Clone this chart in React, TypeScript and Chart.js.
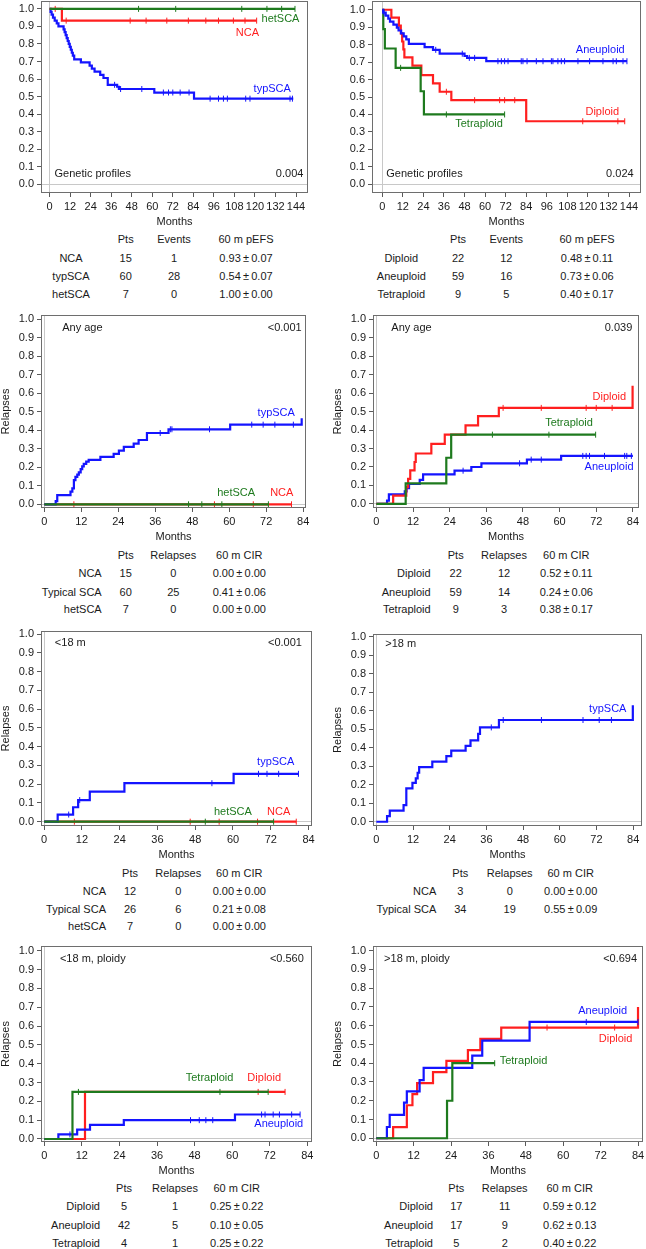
import { useEffect, useRef } from "react";
import { Chart, registerables } from "chart.js";

Chart.register(...registerables);

const FONT = "'Liberation Sans', Arial, Helvetica, sans-serif";
const TEXT = "#1a1a1a";
const AXIS = "#5a5a5a";
const FRAME = "#6e6e6e";
const REF = "#c8c8c8";
const BLUE = "#1414ff";
const RED = "#ff1f1f";
const GREEN = "#1e7a1e";

// ---------- tick labels ----------
const yTicks = [0, 0.1, 0.2, 0.3, 0.4, 0.5, 0.6, 0.7, 0.8, 0.9, 1.0];
const xTicksEFS = [0, 12, 24, 36, 48, 60, 72, 84, 96, 108, 120, 132, 144];
const xTicksCIR = [0, 12, 24, 36, 48, 60, 72, 84];

// ---------- Panel A: EFS by genetic profile ----------
const aNcaT = [0, 7.2, 121];
const aNcaS = [1, 0.933, 0.933];
const aNcaC = [3.3, 9.7, 47.1, 56.4, 68.5, 81.1, 91.3, 98.7, 107.4, 114.2, 121];
const aTypT = [0, 0.6, 1.2, 2.0, 3.0, 4.2, 5.2, 8.2, 8.8, 9.4, 10.0, 10.6, 11.2, 11.8, 12.4, 13.0, 13.6, 14.4, 18.3, 23.4, 24.7, 26.3, 29.6, 31.5, 34.0, 39.5, 40.5, 61.2, 84.4, 142.4];
const aTypS = [1, 0.983, 0.967, 0.95, 0.933, 0.917, 0.9, 0.883, 0.867, 0.85, 0.833, 0.817, 0.8, 0.783, 0.767, 0.75, 0.733, 0.712, 0.695, 0.676, 0.659, 0.642, 0.624, 0.606, 0.567, 0.556, 0.543, 0.523, 0.488, 0.488];
const aTypC = [38.0, 41.5, 53.9, 66.5, 69.5, 72.0, 76.3, 81.5, 93.8, 98.7, 101.6, 103.9, 114.6, 117.1, 140.5, 141.9];
const aHetT = [0, 143.4];
const aHetS = [1, 1];
const aHetC = [52, 73.7, 112.3, 127, 135.6, 143.4];

// ---------- Panel B: EFS by ploidy ----------
const bDipT = [0, 5.3, 9.7, 10.8, 11.6, 12.3, 12.9, 17.6, 22.8, 29.6, 33.5, 40.3, 84.0, 141.5];
const bDipS = [1, 0.955, 0.909, 0.864, 0.818, 0.773, 0.727, 0.68, 0.625, 0.578, 0.53, 0.482, 0.361, 0.361];
const bDipC = [37.4, 53.9, 68.5, 71.4, 77.3, 117, 137.5, 141.5];
const bAneT = [0, 0.5, 2.0, 3.5, 4.5, 6.5, 8.5, 9.5, 11.0, 12.5, 14.0, 15.5, 24.7, 29.6, 33.5, 48.0, 49.5, 60.7, 142.8];
const bAneS = [1, 0.983, 0.966, 0.949, 0.932, 0.915, 0.898, 0.881, 0.864, 0.847, 0.83, 0.804, 0.786, 0.77, 0.748, 0.735, 0.724, 0.705, 0.705];
const bAneC = [1.0, 31.2, 46.7, 50.8, 53.9, 67.5, 69.5, 71.4, 73.4, 81.1, 82.1, 84.5, 89.9, 93.8, 98.7, 99.6, 102.5, 104.5, 106.4, 114.2, 121, 128.8, 134.7, 136.6, 140.5, 142.8];
const bTetT = [0, 0.6, 1.5, 7.8, 22.4, 24.3, 71.4];
const bTetS = [1, 0.889, 0.778, 0.667, 0.533, 0.4, 0.4];
const bTetC = [10.7, 37.4, 71.4];

// ---------- Panel C: CIR any age, genetic ----------
const cTypT = [0, 3.7, 4.2, 8.5, 9.1, 9.6, 10.1, 10.7, 11.2, 11.8, 12.3, 12.8, 13.6, 14.4, 18.2, 22.5, 24.2, 25.8, 29.0, 30.6, 33.3, 40.3, 60.3, 83.5];
const cTypS = [0, 0.017, 0.05, 0.068, 0.086, 0.13, 0.148, 0.16, 0.172, 0.19, 0.205, 0.218, 0.23, 0.24, 0.256, 0.272, 0.29, 0.31, 0.328, 0.347, 0.385, 0.405, 0.43, 0.465];
const cTypC = [37.6, 40.9, 41.4, 53.6, 67.3, 71.0, 74.8, 80.8];
const cNcaT = [0, 80.2];
const cNcaS = [0, 0];
const cNcaC = [9.6, 55.2, 67.8, 80.2];
const cHetT = [0, 72.7];
const cHetS = [0, 0];
const cHetC = [46.8, 51.1, 57.6, 72.7];

// ---------- Panel D: CIR any age, ploidy ----------
const dDipT = [0, 5.5, 9.8, 10.4, 11.1, 12.5, 12.9, 18.0, 22.4, 29.2, 33.3, 40.1, 83.9];
const dDipS = [0, 0.045, 0.091, 0.136, 0.182, 0.227, 0.273, 0.325, 0.375, 0.425, 0.475, 0.52, 0.64];
const dDipC = [41.5, 54.0, 68.7, 72.0, 77.2];
const dAneT = [0, 3.5, 4.1, 9.3, 9.9, 10.7, 14.2, 15.3, 25.6, 31.1, 34.4, 49.3, 60.5, 84.0];
const dAneS = [0, 0.018, 0.052, 0.068, 0.085, 0.108, 0.13, 0.16, 0.18, 0.2, 0.22, 0.24, 0.26, 0.26];
const dAneC = [28.4, 46.9, 50.7, 54.0, 67.6, 68.7, 69.8, 74.7, 81.3, 82.0, 83.5];
const dTetT = [0, 9.6, 22.9, 24.5, 71.8];
const dTetS = [0, 0.111, 0.25, 0.375, 0.375];
const dTetC = [38.0, 56.5, 71.8];

// ---------- Panel E: CIR <18 m, genetic ----------
const eTypT = [0, 4.3, 9.2, 10.8, 14.5, 25.5, 60.2, 80.8];
const eTypS = [0, 0.038, 0.077, 0.115, 0.16, 0.205, 0.255, 0.255];
const eTypC = [7.8, 11.3, 53.3, 68.1, 70.8, 74.5, 80.8];
const eNcaT = [0, 80.1];
const eNcaS = [0, 0];
const eNcaC = [9.6, 46.4, 55.6, 67.8, 80.1];
const eHetT = [0, 72.9];
const eHetS = [0, 0];
const eHetC = [51.2, 72.9];

// ---------- Panel F: CIR >18 m, genetic ----------
const fTypT = [0, 3.5, 4.4, 8.9, 9.8, 11.8, 12.9, 13.5, 14.0, 18.3, 22.9, 24.5, 29.2, 30.8, 33.3, 33.9, 40.1, 83.9];
const fTypS = [0, 0.03, 0.06, 0.09, 0.18, 0.21, 0.235, 0.265, 0.295, 0.325, 0.355, 0.385, 0.41, 0.44, 0.475, 0.51, 0.55, 0.63];
const fTypC = [37.6, 41.5, 54.0, 67.6, 72.9, 76.9];

// ---------- Panel G: CIR <18 m, ploidy ----------
const gDipT = [0, 13.0, 76.9];
const gDipS = [0, 0.25, 0.25];
const gDipC = [68.3, 76.9];
const gAneT = [0, 4.5, 10.5, 14.6, 25.4, 60.9, 81.7];
const gAneS = [0, 0.024, 0.05, 0.075, 0.1, 0.13, 0.13];
const gAneC = [8.2, 46.7, 49.5, 51.6, 53.8, 69.4, 70.5, 73.1, 75.1, 79.0, 81.7];
const gTetT = [0, 9.0, 71.5];
const gTetS = [0, 0.25, 0.25];
const gTetC = [10.9, 56.1, 71.5];

// ---------- Panel H: CIR >18 m, ploidy ----------
const hDipT = [0, 5.4, 9.8, 11.6, 13.1, 18.2, 22.5, 29.4, 33.4, 40.1, 84.0];
const hDipS = [0, 0.059, 0.176, 0.235, 0.294, 0.353, 0.412, 0.47, 0.53, 0.59, 0.7];
const hDipC = [54.8, 76.5];
const hAneT = [0, 3.4, 4.3, 8.9, 9.8, 13.9, 15.2, 30.8, 34.0, 49.2, 84.0];
const hAneS = [0, 0.06, 0.125, 0.19, 0.25, 0.31, 0.375, 0.44, 0.52, 0.62, 0.62];
const hAneC = [67.4, 84.0];
const hTetT = [0, 22.7, 24.4, 38.0];
const hTetS = [0, 0.2, 0.4, 0.4];
const hTetC = [38.0];

// ---------- tables ----------
const hdrEFS = ["Pts", "Events", "60 m pEFS"];
const hdrCIR = ["Pts", "Relapses", "60 m CIR"];
const tAName = ["NCA", "typSCA", "hetSCA"];
const tAPts = [15, 60, 7];
const tAEv = [1, 28, 0];
const tAEst = [0.93, 0.54, 1.0];
const tASe = [0.07, 0.07, 0.0];
const tBName = ["Diploid", "Aneuploid", "Tetraploid"];
const tBPts = [22, 59, 9];
const tBEv = [12, 16, 5];
const tBEst = [0.48, 0.73, 0.4];
const tBSe = [0.11, 0.06, 0.17];
const tCName = ["NCA", "Typical SCA", "hetSCA"];
const tCPts = [15, 60, 7];
const tCEv = [0, 25, 0];
const tCEst = [0.0, 0.41, 0.0];
const tCSe = [0.0, 0.06, 0.0];
const tDName = ["Diploid", "Aneuploid", "Tetraploid"];
const tDPts = [22, 59, 9];
const tDEv = [12, 14, 3];
const tDEst = [0.52, 0.24, 0.38];
const tDSe = [0.11, 0.06, 0.17];
const tEName = ["NCA", "Typical SCA", "hetSCA"];
const tEPts = [12, 26, 7];
const tEEv = [0, 6, 0];
const tEEst = [0.0, 0.21, 0.0];
const tESe = [0.0, 0.08, 0.0];
const tFName = ["NCA", "Typical SCA"];
const tFPts = [3, 34];
const tFEv = [0, 19];
const tFEst = [0.0, 0.55];
const tFSe = [0.0, 0.09];
const tGName = ["Diploid", "Aneuploid", "Tetraploid"];
const tGPts = [5, 42, 4];
const tGEv = [1, 5, 1];
const tGEst = [0.25, 0.1, 0.25];
const tGSe = [0.22, 0.05, 0.22];
const tHName = ["Diploid", "Aneuploid", "Tetraploid"];
const tHPts = [17, 17, 5];
const tHEv = [11, 9, 2];
const tHEst = [0.59, 0.62, 0.4];
const tHSe = [0.12, 0.13, 0.22];

// ---------- layout ----------
const AX_W = 41;
const AX_H = 34;
const PAD_T = 12;
const PAD_R = 14;

type Series = { t: number[]; s: number[]; c: number[]; color: string };
type Label = { text: string; x: number; y: number; color: string; align: "left" | "right" | "center" };
type Table = {
  hdr: string[]; names: string[]; pts: number[]; ev: number[]; est: number[]; se: number[];
  labelX: number; labelAlign: "center" | "right"; cols: number[]; headY: number; rowY: number[];
};
type PanelCfg = {
  frame: number[]; xr: number[]; yr: number[]; xTicks: number[]; yTitle: string;
  series: Series[]; labels: Label[]; table: Table;
};

const PANELS: PanelCfg[] = [
  {
    frame: [41, 1, 308, 193], xr: [-5, 151], yr: [-0.05, 1.045], xTicks: xTicksEFS, yTitle: "",
    series: [
      { t: aTypT, s: aTypS, c: aTypC, color: BLUE },
      { t: aNcaT, s: aNcaS, c: aNcaC, color: RED },
      { t: aHetT, s: aHetS, c: aHetC, color: GREEN },
    ],
    labels: [
      { text: "hetSCA", x: 146, y: 0.94, color: GREEN, align: "right" },
      { text: "NCA", x: 122.4, y: 0.861, color: RED, align: "right" },
      { text: "typSCA", x: 141, y: 0.544, color: BLUE, align: "right" },
      { text: "Genetic profiles", x: 2.9, y: 0.057, color: TEXT, align: "left" },
      { text: "0.004", x: 148.3, y: 0.057, color: TEXT, align: "right" },
    ],
    table: { hdr: hdrEFS, names: tAName, pts: tAPts, ev: tAEv, est: tAEst, se: tASe, labelX: 71, labelAlign: "center", cols: [125.7, 174, 246], headY: 239, rowY: [258, 276, 294] },
  },
  {
    frame: [372, 1, 641, 193], xr: [-6, 151], yr: [-0.05, 1.05], xTicks: xTicksEFS, yTitle: "",
    series: [
      { t: bDipT, s: bDipS, c: bDipC, color: RED },
      { t: bTetT, s: bTetS, c: bTetC, color: GREEN },
      { t: bAneT, s: bAneS, c: bAneC, color: BLUE },
    ],
    labels: [
      { text: "Aneuploid", x: 141.5, y: 0.771, color: BLUE, align: "right" },
      { text: "Diploid", x: 138.2, y: 0.415, color: RED, align: "right" },
      { text: "Tetraploid", x: 70.4, y: 0.343, color: GREEN, align: "right" },
      { text: "Genetic profiles", x: 2.3, y: 0.061, color: TEXT, align: "left" },
      { text: "0.024", x: 146.7, y: 0.061, color: TEXT, align: "right" },
    ],
    table: { hdr: hdrEFS, names: tBName, pts: tBPts, ev: tBEv, est: tBEst, se: tBSe, labelX: 401.3, labelAlign: "center", cols: [458, 506.3, 587], headY: 239, rowY: [258, 276, 294] },
  },
  {
    frame: [41, 315, 306, 508], xr: [-1.07, 84.9], yr: [-0.02, 1.022], xTicks: xTicksCIR, yTitle: "Relapses",
    series: [
      { t: cNcaT, s: cNcaS, c: cNcaC, color: RED },
      { t: cTypT, s: cTypS, c: cTypC, color: BLUE },
      { t: cHetT, s: cHetS, c: cHetC, color: GREEN },
    ],
    labels: [
      { text: "typSCA", x: 81.3, y: 0.495, color: BLUE, align: "right" },
      { text: "hetSCA", x: 68.4, y: 0.06, color: GREEN, align: "right" },
      { text: "NCA", x: 80.8, y: 0.06, color: RED, align: "right" },
      { text: "Any age", x: 5.8, y: 0.95, color: TEXT, align: "left" },
      { text: "<0.001", x: 83.5, y: 0.95, color: TEXT, align: "right" },
    ],
    table: { hdr: hdrCIR, names: tCName, pts: tCPts, ev: tCEv, est: tCEst, se: tCSe, labelX: 101.7, labelAlign: "right", cols: [125.7, 173.3, 239.3], headY: 555, rowY: [573.3, 591.7, 609.3] },
  },
  {
    frame: [373, 315, 639, 508], xr: [-1.1, 86], yr: [-0.022, 1.023], xTicks: xTicksCIR, yTitle: "Relapses",
    series: [
      { t: dAneT, s: dAneS, c: dAneC, color: BLUE },
      { t: dDipT, s: dDipS, c: dDipC, color: RED },
      { t: dTetT, s: dTetS, c: dTetC, color: GREEN },
    ],
    labels: [
      { text: "Diploid", x: 81.8, y: 0.578, color: RED, align: "right" },
      { text: "Tetraploid", x: 70.9, y: 0.44, color: GREEN, align: "right" },
      { text: "Aneuploid", x: 84.2, y: 0.202, color: BLUE, align: "right" },
      { text: "Any age", x: 4.9, y: 0.951, color: TEXT, align: "left" },
      { text: "0.039", x: 83.8, y: 0.951, color: TEXT, align: "right" },
    ],
    table: { hdr: hdrCIR, names: tDName, pts: tDPts, ev: tDEv, est: tDEst, se: tDSe, labelX: 430.7, labelAlign: "right", cols: [455.7, 504, 566.3], headY: 555, rowY: [573.3, 591.7, 609.3] },
  },
  {
    frame: [41, 631, 312, 826], xr: [-1, 85.1], yr: [-0.023, 1.016], xTicks: xTicksCIR, yTitle: "Relapses",
    series: [
      { t: eNcaT, s: eNcaS, c: eNcaC, color: RED },
      { t: eTypT, s: eTypS, c: eTypC, color: BLUE },
      { t: eHetT, s: eHetS, c: eHetC, color: GREEN },
    ],
    labels: [
      { text: "typSCA", x: 79.5, y: 0.32, color: BLUE, align: "right" },
      { text: "hetSCA", x: 66, y: 0.053, color: GREEN, align: "right" },
      { text: "NCA", x: 78.2, y: 0.053, color: RED, align: "right" },
      { text: "<18 m", x: 3.4, y: 0.95, color: TEXT, align: "left" },
      { text: "<0.001", x: 81.9, y: 0.95, color: TEXT, align: "right" },
    ],
    table: { hdr: hdrCIR, names: tEName, pts: tEPts, ev: tEEv, est: tEEst, se: tESe, labelX: 106, labelAlign: "right", cols: [130, 178.3, 239.3], headY: 873, rowY: [891, 909.3, 926] },
  },
  {
    frame: [373, 634, 642, 826], xr: [-1.1, 86.9], yr: [-0.023, 1.015], xTicks: xTicksCIR, yTitle: "Relapses",
    series: [{ t: fTypT, s: fTypS, c: fTypC, color: BLUE }],
    labels: [
      { text: "typSCA", x: 81.8, y: 0.607, color: BLUE, align: "right" },
      { text: ">18 m", x: 2.9, y: 0.96, color: TEXT, align: "left" },
    ],
    table: { hdr: hdrCIR, names: tFName, pts: tFPts, ev: tFEv, est: tFEst, se: tFSe, labelX: 436.3, labelAlign: "right", cols: [460.3, 509.7, 570.7], headY: 873, rowY: [891, 909.3] },
  },
  {
    frame: [41, 946, 312, 1142], xr: [-1.05, 85.5], yr: [-0.016, 1.025], xTicks: xTicksCIR, yTitle: "Relapses",
    series: [
      { t: gDipT, s: gDipS, c: gDipC, color: RED },
      { t: gAneT, s: gAneS, c: gAneC, color: BLUE },
      { t: gTetT, s: gTetS, c: gTetC, color: GREEN },
    ],
    labels: [
      { text: "Tetraploid", x: 60.4, y: 0.326, color: GREEN, align: "right" },
      { text: "Diploid", x: 75.6, y: 0.326, color: RED, align: "right" },
      { text: "Aneuploid", x: 82.7, y: 0.078, color: BLUE, align: "right" },
      { text: "<18 m, ploidy", x: 5, y: 0.956, color: TEXT, align: "left" },
      { text: "<0.560", x: 82.9, y: 0.956, color: TEXT, align: "right" },
    ],
    table: { hdr: hdrCIR, names: tGName, pts: tGPts, ev: tGEv, est: tGEst, se: tGSe, labelX: 100, labelAlign: "right", cols: [124, 175, 236.7], headY: 1187.7, rowY: [1206, 1225, 1242.7] },
  },
  {
    frame: [373, 946, 643, 1142], xr: [-1.06, 85.6], yr: [-0.02, 1.025], xTicks: xTicksCIR, yTitle: "Relapses",
    series: [
      { t: hDipT, s: hDipS, c: hDipC, color: RED },
      { t: hAneT, s: hAneS, c: hAneC, color: BLUE },
      { t: hTetT, s: hTetS, c: hTetC, color: GREEN },
    ],
    labels: [
      { text: "Aneuploid", x: 80.5, y: 0.68, color: BLUE, align: "right" },
      { text: "Diploid", x: 82.2, y: 0.528, color: RED, align: "right" },
      { text: "Tetraploid", x: 39.6, y: 0.412, color: GREEN, align: "left" },
      { text: ">18 m, ploidy", x: 2.5, y: 0.956, color: TEXT, align: "left" },
      { text: "<0.694", x: 83.7, y: 0.956, color: TEXT, align: "right" },
    ],
    table: { hdr: hdrCIR, names: tHName, pts: tHPts, ev: tHEv, est: tHEst, se: tHSe, labelX: 433, labelAlign: "right", cols: [456.3, 504.7, 569.7], headY: 1187.7, rowY: [1206, 1225, 1242.7] },
  },
];

function stepAt(t: number[], s: number[], x: number) {
  let v = s[0];
  for (let i = 0; i < t.length; i++) if (t[i] <= x) v = s[i];
  return v;
}

const framePlugin = {
  id: "frameBox",
  afterDraw(chart: any) {
    const { ctx, chartArea: a } = chart;
    ctx.save();
    ctx.strokeStyle = FRAME;
    ctx.lineWidth = 1;
    ctx.strokeRect(Math.round(a.left) + 0.5, Math.round(a.top) + 0.5, Math.round(a.right - a.left) - 1, Math.round(a.bottom - a.top) - 1);
    ctx.restore();
  },
};

const textPlugin = {
  id: "panelText",
  afterDatasetsDraw(chart: any, _args: any, opts: any) {
    const { ctx } = chart;
    const xs = chart.scales.x;
    const ys = chart.scales.y;
    ctx.save();
    ctx.font = `11px ${FONT}`;
    ctx.textBaseline = "middle";
    for (const l of (opts.items || []) as Label[]) {
      ctx.fillStyle = l.color;
      ctx.textAlign = l.align;
      ctx.fillText(l.text, xs.getPixelForValue(l.x), ys.getPixelForValue(l.y));
    }
    ctx.restore();
  },
};

function Panel({ cfg }: { cfg: PanelCfg }) {
  const ref = useRef<HTMLCanvasElement>(null);
  const [l, t, r, b] = cfg.frame;
  const cw = r - l + AX_W + PAD_R;
  const ch = b - t + PAD_T + AX_H;

  useEffect(() => {
    const datasets: any[] = [];
    const n = cfg.series.length;
    cfg.series.forEach((sr, i) => {
      const base = (n - i) * 2;
      datasets.push({
        type: "line",
        data: sr.t.map((x, k) => ({ x, y: sr.s[k] })),
        borderColor: sr.color,
        borderWidth: 2.2,
        stepped: true,
        pointRadius: 0,
        fill: false,
        order: base,
      });
      datasets.push({
        type: "scatter",
        data: sr.c.map((x) => ({ x, y: stepAt(sr.t, sr.s, x) })),
        borderColor: sr.color,
        backgroundColor: sr.color,
        pointBorderColor: sr.color,
        pointStyle: "line",
        rotation: 90,
        pointRadius: 3,
        pointBorderWidth: 1,
        showLine: false,
        order: base - 1,
      });
    });

    const tickFont = { family: FONT, size: 11 };
    const chart = new Chart(ref.current as HTMLCanvasElement, {
      type: "line",
      data: { datasets },
      options: {
        responsive: false,
        animation: false,
        devicePixelRatio: 1,
        events: [],
        layout: { padding: { left: 0, top: PAD_T, right: PAD_R, bottom: 0 } },
        plugins: {
          legend: { display: false },
          tooltip: { enabled: false },
          title: { display: false },
          panelText: { items: cfg.labels },
        } as any,
        scales: {
          x: {
            type: "linear",
            min: cfg.xr[0],
            max: cfg.xr[1],
            afterFit: (s: any) => { s.height = AX_H; },
            afterBuildTicks: (s: any) => { s.ticks = cfg.xTicks.map((v) => ({ value: v })); },
            ticks: {
              autoSkip: false, maxRotation: 0, minRotation: 0, padding: 3, color: TEXT, font: tickFont,
              callback: (v: any) => String(v),
            },
            grid: {
              color: (c: any) => (c.tick && c.tick.value === 0 ? REF : "rgba(0,0,0,0)"),
              tickColor: AXIS, tickLength: 4, lineWidth: 1, drawTicks: true,
            },
            border: { display: false },
            title: { display: true, text: "Months", color: TEXT, font: { family: FONT, size: 11, lineHeight: 1 }, padding: 0 },
          },
          y: {
            type: "linear",
            position: "left",
            min: cfg.yr[0],
            max: cfg.yr[1],
            afterFit: (s: any) => { s.width = AX_W; },
            afterBuildTicks: (s: any) => { s.ticks = yTicks.map((v) => ({ value: v })); },
            ticks: {
              autoSkip: false, padding: 3, color: TEXT, font: tickFont,
              callback: (v: any) => Number(v).toFixed(1),
            },
            grid: {
              color: (c: any) => (c.tick && c.tick.value === 0 ? REF : "rgba(0,0,0,0)"),
              tickColor: AXIS, tickLength: 4, lineWidth: 1, drawTicks: true,
            },
            border: { display: false },
            title: {
              display: cfg.yTitle !== "", text: cfg.yTitle, color: TEXT,
              font: { family: FONT, size: 11, lineHeight: 1 }, padding: 0,
            },
          },
        },
      } as any,
      plugins: [framePlugin, textPlugin],
    });
    return () => chart.destroy();
  }, [cfg]);

  return (
    <canvas
      ref={ref}
      width={cw}
      height={ch}
      style={{ position: "absolute", left: l - AX_W, top: t - PAD_T, width: cw, height: ch }}
    />
  );
}

function Cell({ text, x, y, align }: { text: string; x: number; y: number; align: "center" | "right" }) {
  return (
    <div
      style={{
        position: "absolute",
        left: x,
        top: y,
        transform: `translate(${align === "right" ? "-100%" : "-50%"}, -50%)`,
        whiteSpace: "nowrap",
        lineHeight: "13px",
      }}
    >
      {text}
    </div>
  );
}

function TableView({ tb }: { tb: Table }) {
  const cells: any[] = [];
  tb.hdr.forEach((h, i) => cells.push(<Cell key={"h" + i} text={h} x={tb.cols[i]} y={tb.headY} align="center" />));
  tb.names.forEach((nm, r) => {
    const y = tb.rowY[r];
    cells.push(<Cell key={"n" + r} text={nm} x={tb.labelX} y={y} align={tb.labelAlign} />);
    cells.push(<Cell key={"p" + r} text={String(tb.pts[r])} x={tb.cols[0]} y={y} align="center" />);
    cells.push(<Cell key={"e" + r} text={String(tb.ev[r])} x={tb.cols[1]} y={y} align="center" />);
    cells.push(
      <Cell key={"v" + r} text={`${tb.est[r].toFixed(2)}\u2009±\u2009${tb.se[r].toFixed(2)}`} x={tb.cols[2]} y={y} align="center" />
    );
  });
  return <>{cells}</>;
}

export default function App() {
  return (
    <div
      style={{
        position: "absolute",
        left: 0,
        top: 0,
        width: 646,
        height: 1249,
        background: "#ffffff",
        overflow: "hidden",
        fontFamily: FONT,
        fontSize: 11,
        color: TEXT,
      }}
    >
      {PANELS.map((p, i) => (
        <Panel key={"c" + i} cfg={p} />
      ))}
      {PANELS.map((p, i) => (
        <TableView key={"t" + i} tb={p.table} />
      ))}
    </div>
  );
}
